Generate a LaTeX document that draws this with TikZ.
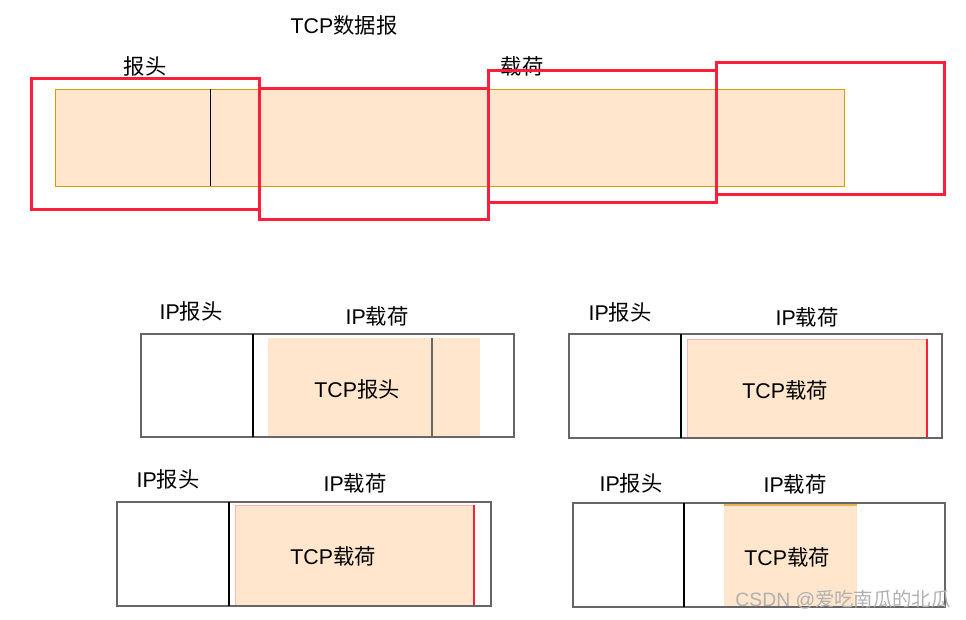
\documentclass[tikz,border=0pt]{standalone}
\usepackage{fontspec}
\setmainfont{Liberation Sans}
\newfontfamily\cjk{Noto Sans CJK SC}
\newcommand{\zh}[1]{{\cjk #1}}
\definecolor{tcpfill}{HTML}{FFE6CC}
\definecolor{tcpline}{HTML}{D79B00}
\definecolor{cutred}{HTML}{FF1F3D}
\definecolor{ipgray}{HTML}{666666}
\definecolor{pinkline}{HTML}{FFB3B3}
\definecolor{goldline}{HTML}{F0B050}
\definecolor{wmark}{HTML}{B0B0B0}

\begin{document}
\begin{tikzpicture}[x=0.75pt,y=-0.75pt,
  lbl/.style={font=\fontsize{16}{18}\selectfont,inner sep=0pt},
  seg/.style={draw=cutred,line width=2.25pt},
  ipbox/.style={draw=ipgray,line width=1.3pt},
  sep/.style={draw=black,line width=0.8pt}]
\useasboundingbox (0,0) rectangle (966,620);

% TCP datagram cut into segments
\node (title)   at (344,25) [lbl] {TCP\zh{数据报}};
\node (hdr)     at (145,66) [lbl] {\zh{报头}};
\node (payload) at (522,66) [lbl] {\zh{载荷}};
\filldraw [fill=tcpfill,draw=tcpline] (55,89) rectangle (844,186);
\draw [sep,line width=0.6pt] (210,89) -- (210,186);
\draw [seg] (31,79)  rectangle (259,210);
\draw [seg] (259,89) rectangle (488,220);
\draw [seg] (488,71) rectangle (716,203);
\draw [seg] (716,63) rectangle (944,195);

% packet 1
\node (iph1) at (191,311) [lbl] {IP\zh{报头}};
\node (ipp1) at (377,316) [lbl] {IP\zh{载荷}};
\fill [tcpfill] (268,338) rectangle (480,437);
\draw [ipbox,line width=1pt] (432,338) -- (432,437);
\draw [ipbox] (141,334) rectangle (514,437);
\draw [sep] (253,334) -- (253,437);
\node (tcp1) at (357,389) [lbl] {TCP\zh{报头}};

% packet 2
\node (iph2) at (620,312) [lbl] {IP\zh{报头}};
\node (ipp2) at (807,317) [lbl] {IP\zh{载荷}};
\filldraw [fill=tcpfill,draw=pinkline,line width=0.6pt] (687,339) rectangle (927,438);
\draw [draw=cutred,line width=0.9pt] (927,339) -- (927,438);
\draw [ipbox] (569,334) rectangle (942,438);
\draw [sep] (681,334) -- (681,438);
\node (tcp2) at (785,390) [lbl] {TCP\zh{载荷}};

% packet 3
\node (iph3) at (168,479) [lbl] {IP\zh{报头}};
\node (ipp3) at (355,483) [lbl] {IP\zh{载荷}};
\filldraw [fill=tcpfill,draw=pinkline,line width=0.6pt] (235,505) rectangle (474,606);
\draw [draw=cutred,line width=0.9pt] (474,505) -- (474,606);
\draw [ipbox] (117,502) rectangle (491,606);
\draw [sep] (229,502) -- (229,606);
\node (tcp3) at (333,556) [lbl] {TCP\zh{载荷}};

% packet 4
\node (iph4) at (631,483) [lbl] {IP\zh{报头}};
\node (ipp4) at (795,484) [lbl] {IP\zh{载荷}};
\fill [tcpfill] (724,505) rectangle (857,607);
\draw [draw=goldline,line width=1.2pt] (724,505) -- (857,505);
\draw [ipbox] (573,503) rectangle (945,607);
\draw [sep] (684,503) -- (684,607);
\node (tcp4) at (787,557) [lbl] {TCP\zh{载荷}};

\node (mark) at (843,600) [lbl,text=wmark,font=\fontsize{14.5}{16}\selectfont] {CSDN @\zh{爱吃南瓜的北瓜}};
\end{tikzpicture}
\end{document}
